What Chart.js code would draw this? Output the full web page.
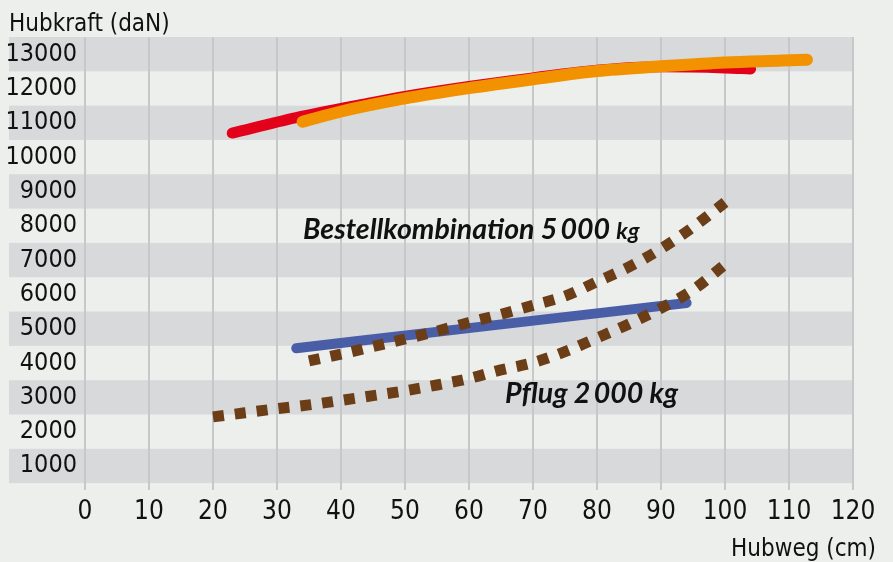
<!DOCTYPE html>
<html lang="de">
<head>
  <meta charset="UTF-8">
  <title>Hubkraft / Hubweg</title>
  <script src="https://cdn.jsdelivr.net/npm/chart.js"></script>
  <style>
    html, body { margin: 0; padding: 0; background: #ecefec; }
    .wrap { width: 893px; height: 562px; position: relative; }
  </style>
</head>
<body>
  <div class="wrap"><canvas id="chart"></canvas></div>

  <script>
    // Achsen
    const xTicks = [0, 10, 20, 30, 40, 50, 60, 70, 80, 90, 100, 110, 120];
    const yTicks = [1000, 2000, 3000, 4000, 5000, 6000, 7000, 8000, 9000, 10000, 11000, 12000, 13000];

    // Kurven (Hubweg cm -> Hubkraft daN)
    const redX = [23, 33, 44, 50, 60, 70, 80, 90, 100, 104];
    const redY = [10700, 11150, 11560, 11770, 12060, 12310, 12530, 12630, 12600, 12570];

    const orangeX = [34, 40, 50, 60, 70, 80, 90, 100, 109, 112.8];
    const orangeY = [11030, 11330, 11710, 12010, 12270, 12510, 12645, 12760, 12815, 12840];

    const blueX = [33, 62, 94];
    const blueY = [4430, 5060, 5750];

    const bestellX = [35, 40, 45, 50, 55, 60, 65, 70, 75, 80, 85, 90, 95, 100];
    const bestellY = [4060, 4260, 4480, 4700, 4930, 5180, 5420, 5680, 5950, 6370, 6800, 7330, 7960, 8680];

    const pflugX = [20, 25, 30, 35, 40, 45, 50, 55, 60, 65, 70, 75, 80, 85, 90, 95, 100];
    const pflugY = [2430, 2550, 2670, 2780, 2910, 3050, 3190, 3360, 3550, 3800, 4010, 4330, 4730, 5140, 5600, 6130, 6870];

    const pts = (xs, ys) => xs.map((x, i) => ({ x: x, y: ys[i] }));
    const FONT = "'Liberation Sans Narrow', 'DejaVu Sans Condensed', sans-serif";

    // Hintergrund mit grauen Streifen
    const bands = {
      id: 'bands',
      beforeDraw(chart) {
        const { ctx, chartArea, scales } = chart;
        ctx.save();
        ctx.fillStyle = '#ecefec';
        ctx.fillRect(0, 0, chart.width, chart.height);
        ctx.fillStyle = '#d8d9db';
        yTicks.forEach((v, i) => {
          if (i % 2 === 0) {
            const top = scales.y.getPixelForValue(v + 500);
            const bot = scales.y.getPixelForValue(v - 500);
            ctx.fillRect(9, top, chartArea.right - 9, bot - top);
          }
        });
        ctx.restore();
      }
    };

    // Achsentitel und Beschriftungen
    const labels = {
      id: 'labels',
      afterDraw(chart) {
        const ctx = chart.ctx;
        ctx.save();
        ctx.fillStyle = '#111';
        ctx.textBaseline = 'alphabetic';
        ctx.font = '24px ' + FONT;
        ctx.textAlign = 'left';
        ctx.fillText('Hubkraft (daN)', 9, 31);
        ctx.textAlign = 'right';
        ctx.fillText('Hubweg (cm)', 876, 556);

        ctx.textAlign = 'left';
        ctx.font = 'italic bold 28.5px Lato, sans-serif';
        const t1 = 'Bestellkombination 5\u2009000 ';
        ctx.fillText(t1, 303, 239);
        const w1 = ctx.measureText(t1).width;
        ctx.font = 'italic bold 23px Lato, sans-serif';
        ctx.fillText('kg', 303 + w1, 239);

        ctx.font = 'italic bold 28.5px Lato, sans-serif';
        ctx.fillText('Pflug 2\u2009000 kg', 505, 403);
        ctx.restore();
      }
    };

    new Chart(document.getElementById('chart').getContext('2d'), {
      type: 'line',
      data: {
        datasets: [
          { data: pts(redX, redY), borderColor: '#e2001a', borderWidth: 11, borderCapStyle: 'round', order: 5 },
          { data: pts(orangeX, orangeY), borderColor: '#f39200', borderWidth: 12, borderCapStyle: 'round', order: 4 },
          { data: pts(blueX, blueY), borderColor: '#4a5ea8', borderWidth: 10, borderCapStyle: 'round', order: 3 },
          { data: pts(bestellX, bestellY), borderColor: '#6b3e18', borderWidth: 11, borderDash: [11, 11], borderCapStyle: 'butt', order: 2 },
          { data: pts(pflugX, pflugY), borderColor: '#6b3e18', borderWidth: 11, borderDash: [11, 11], borderCapStyle: 'butt', order: 1 }
        ]
      },
      options: {
        responsive: true,
        maintainAspectRatio: false,
        animation: false,
        layout: { padding: { top: 37, right: 40, left: 0, bottom: 0 } },
        elements: {
          point: { radius: 0 },
          line: { cubicInterpolationMode: 'monotone', borderJoinStyle: 'round' }
        },
        scales: {
          x: {
            type: 'linear',
            min: 0,
            max: 120,
            afterBuildTicks: s => { s.ticks = xTicks.map(v => ({ value: v })); },
            afterFit: s => { s.height = 72; },
            grid: { color: '#c7c8ca', lineWidth: 2, drawTicks: false },
            border: { display: false },
            ticks: {
              padding: 7, color: '#111', autoSkip: false, maxRotation: 0,
              font: { family: FONT, size: 26 },
              callback: v => String(v)
            }
          },
          y: {
            type: 'linear',
            min: 300,
            max: 13500,
            afterBuildTicks: s => { s.ticks = yTicks.map(v => ({ value: v })); },
            afterFit: s => { s.width = 85; },
            grid: { display: false, drawTicks: false },
            border: { display: false },
            ticks: {
              padding: 8, color: '#111', autoSkip: false,
              font: { family: FONT, size: 25 },
              callback: v => String(v)
            }
          }
        },
        plugins: { legend: { display: false }, tooltip: { enabled: false } }
      },
      plugins: [bands, labels]
    });
  </script>
</body>
</html>
